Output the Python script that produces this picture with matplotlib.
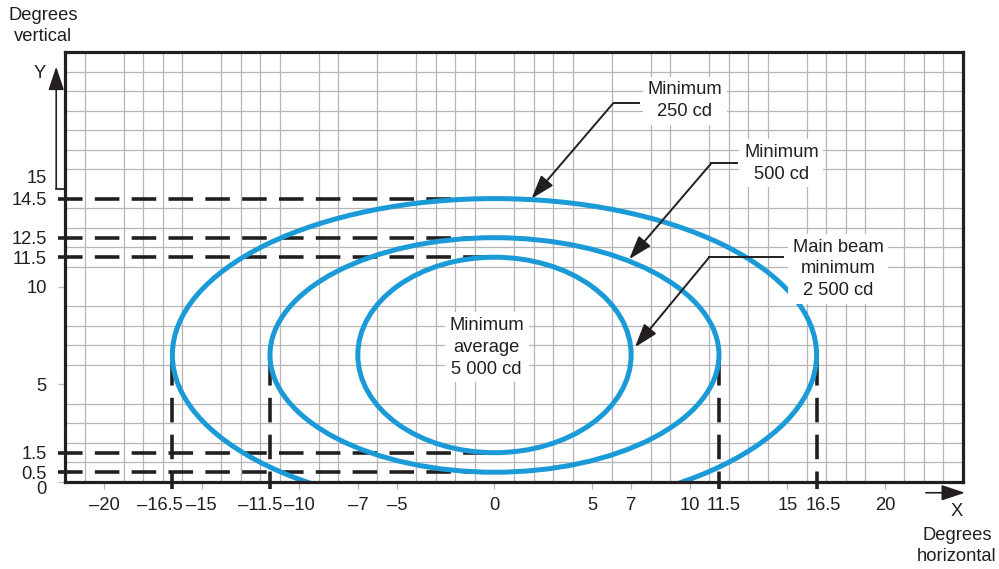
import matplotlib
matplotlib.use('Agg')
import matplotlib.pyplot as plt
import matplotlib.transforms as mtransforms
from matplotlib.patches import Ellipse

plt.rcParams['font.family'] = ['Liberation Sans', 'DejaVu Sans']
plt.rcParams['font.size'] = 13.2

INK = '#231f20'
BLUE = '#1a9ad6'
GRID = '#b5b5b5'
LS = 1.38

# beam contours (horizontal half-width, top and bottom in degrees)
contour_names = ['Minimum 250 cd', 'Minimum 500 cd', 'Main beam minimum 2 500 cd']
half_width = [16.5, 11.5, 7.0]
top_deg = [14.5, 12.5, 11.5]
bottom_deg = [-1.5, 0.5, 1.5]

# dashed reference lines
h_dash_levels = [14.5, 12.5, 11.5, 1.5, 0.5]
v_dash_levels = [-16.5, -11.5, 11.5, 16.5]

# axis ticks
x_ticks = [-20, -16.5, -15, -11.5, -10, -7, -5, 0, 5, 7, 10, 11.5, 15, 16.5, 20]
x_labels = ['–20', '–16.5', '–15', '–11.5', '–10', '–7', '–5', '0', '5', '7',
            '10', '11.5', '15', '16.5', '20']
y_ticks = [0, 0.5, 1.5, 5, 10, 11.5, 12.5, 14.5, 15]
y_labels = ['0', '0.5', '1.5', '5', '10', '11.5', '12.5', '14.5', '15']

# callouts: text, text position, leader end, leader corner, arrow tip
callout_text = ['Minimum\n250 cd', 'Minimum\n500 cd', 'Main beam\nminimum\n2 500 cd']
callout_pos = [(9.75, 19.5), (14.7, 16.3), (17.6, 10.9)]
leader_end = [(7.4, 19.4), (12.4, 16.3), (14.8, 11.5)]
leader_corner = [(6.1, 19.4), (11.1, 16.3), (11.0, 11.5)]
arrow_tip = [(1.9, 14.5), (6.9, 11.4), (7.2, 6.9)]

fig = plt.figure(figsize=(9.99, 5.69), dpi=100)
ax = fig.add_axes([65/999, 1 - 482/569, 898/999, 430/569])
ax.set_xlim(-22, 24)
ax.set_ylim(0, 22)

# grid every degree
ax.set_xticks(range(-22, 25), minor=True)
ax.set_yticks(range(0, 23), minor=True)
ax.grid(which='minor', color=GRID, lw=0.9)
ax.set_axisbelow(True)
ax.tick_params(which='minor', length=0)

ax.set_xticks(x_ticks)
ax.set_xticklabels(x_labels)
ax.set_yticks(y_ticks)
ax.set_yticklabels(y_labels)
ax.tick_params(axis='x', which='major', length=5, width=0.9, color=GRID, pad=6, labelcolor=INK)
ax.tick_params(axis='y', which='major', length=5, width=0.9, color=GRID, pad=8, labelcolor=INK)

# nudge crowded tick labels like the original print
x_shift = {'–16.5': -12, '–11.5': -10, '11.5': 5, '16.5': 7}
for lab in ax.get_xticklabels():
    dx = x_shift.get(lab.get_text(), 0)
    if dx:
        lab.set_transform(lab.get_transform() +
                          mtransforms.ScaledTranslation(dx / 100, 0, fig.dpi_scale_trans))
y_shift = {'15': 12, '0': -5}
for lab in ax.get_yticklabels():
    dy = y_shift.get(lab.get_text(), 0)
    if dy:
        lab.set_transform(lab.get_transform() +
                          mtransforms.ScaledTranslation(0, dy / 100, fig.dpi_scale_trans))

for s in ax.spines.values():
    s.set_linewidth(2.3)
    s.set_color(INK)
    s.set_zorder(6)

# dashed guides
for lvl in h_dash_levels:
    ax.plot([-22.35, 0], [lvl, lvl], color=INK, lw=2.6, dashes=(6.8, 3.4),
            clip_on=False, zorder=2)
for lvl in v_dash_levels:
    ax.plot([lvl, lvl], [6.2, -0.35], color=INK, lw=2.6, dashes=(6.8, 3.4),
            clip_on=False, zorder=2)

# beam contours
for hw, t, b in zip(half_width, top_deg, bottom_deg):
    e = Ellipse((0, (t + b) / 2), 2 * hw, t - b, fill=False, edgecolor=BLUE,
                lw=3.6, zorder=3)
    ax.add_patch(e)

# centre label
ax.text(-0.4, 6.9, 'Minimum\naverage\n5 000 cd', ha='center', va='center',
        color=INK, linespacing=LS, zorder=5,
        bbox=dict(boxstyle='square,pad=0.25', fc='white', ec='none'))

# callouts with leaders
for txt, pos, end, corner, tip in zip(callout_text, callout_pos, leader_end,
                                       leader_corner, arrow_tip):
    ax.text(pos[0], pos[1], txt, ha='center', va='center', color=INK,
            linespacing=LS, zorder=5,
            bbox=dict(boxstyle='square,pad=0.25', fc='white', ec='none'))
    ax.plot([end[0], corner[0]], [end[1], corner[1]], color=INK, lw=1.4, zorder=6)
    ax.annotate('', xy=tip, xytext=corner, zorder=6,
                arrowprops=dict(arrowstyle='-|>,head_length=0.9,head_width=0.3',
                                mutation_scale=16, color=INK, lw=1.4,
                                shrinkA=0, shrinkB=0))

# axis direction arrows
ax.plot([-22.45, -22], [15, 15], color=INK, lw=1.2, clip_on=False)
ax.annotate('', xy=(-22.45, 21.25), xytext=(-22.45, 15), annotation_clip=False,
            arrowprops=dict(arrowstyle='-|>,head_length=0.9,head_width=0.3',
                            mutation_scale=16, color=INK, lw=1.2,
                            shrinkA=0, shrinkB=0))
ax.annotate('', xy=(24.1, -0.55), xytext=(22.1, -0.55), annotation_clip=False,
            arrowprops=dict(arrowstyle='-|>,head_length=0.9,head_width=0.3',
                            mutation_scale=16, color=INK, lw=1.2,
                            shrinkA=0, shrinkB=0))

fig.text(40/999, 1 - 73/569, 'Y', ha='center', va='center', color=INK)
fig.text(43/999, 1 - 26/569, 'Degrees\nvertical', ha='center', va='center',
         color=INK, linespacing=LS)
fig.text(957/999, 1 - 512/569, 'X', ha='center', va='center', color=INK)
fig.text(957/999, 1 - 546/569, 'Degrees\nhorizontal', ha='center', va='center',
         color=INK, linespacing=LS)

fig.savefig('out.png', dpi=100)
